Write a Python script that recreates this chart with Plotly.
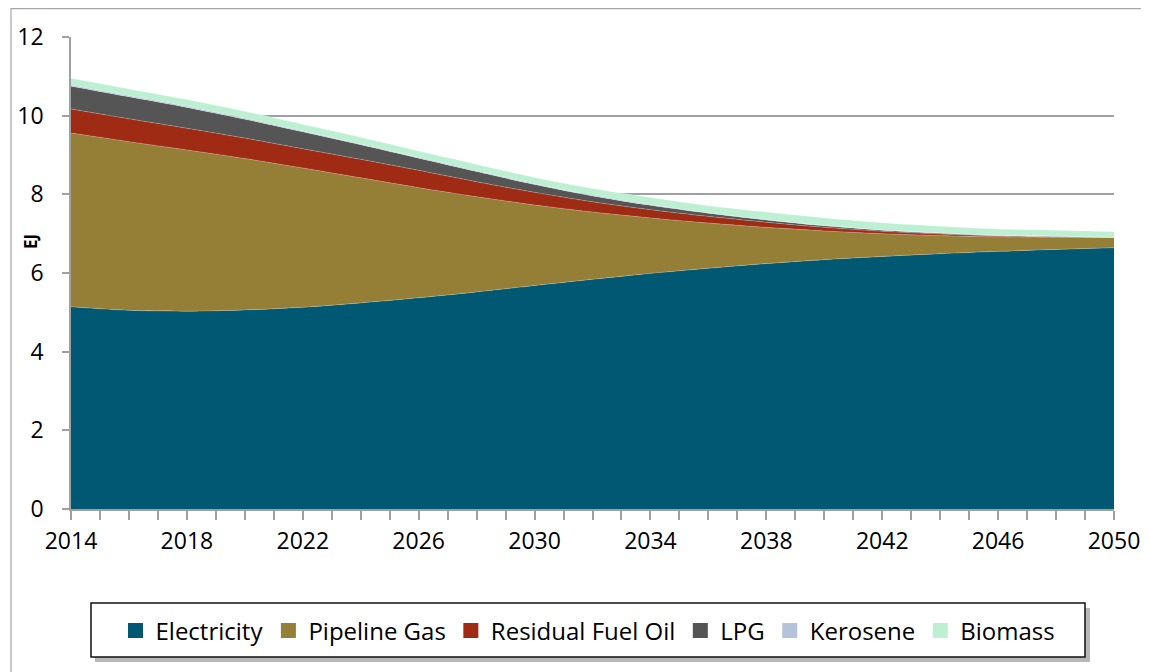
import plotly.graph_objects as go

years = list(range(2014, 2051, 2))
electricity = [5.14, 5.05, 5.03, 5.06, 5.13, 5.24, 5.37, 5.52, 5.68, 5.84, 5.99, 6.12, 6.24, 6.34, 6.42, 6.49, 6.55, 6.60, 6.64]
pipeline_gas = [4.42, 4.29, 4.10, 3.85, 3.54, 3.18, 2.80, 2.42, 2.05, 1.71, 1.41, 1.15, 0.92, 0.73, 0.58, 0.46, 0.37, 0.31, 0.26]
residual_fuel_oil = [0.61, 0.58, 0.55, 0.52, 0.49, 0.47, 0.44, 0.38, 0.32, 0.26, 0.21, 0.17, 0.13, 0.09, 0.06, 0.04, 0.02, 0.01, 0.00]
lpg = [0.58, 0.56, 0.53, 0.48, 0.43, 0.37, 0.31, 0.26, 0.20, 0.15, 0.11, 0.08, 0.06, 0.04, 0.03, 0.02, 0.01, 0.01, 0.00]
kerosene = [0.03, 0.03, 0.03, 0.03, 0.02, 0.02, 0.02, 0.02, 0.02, 0.02, 0.02, 0.01, 0.01, 0.01, 0.01, 0.01, 0.01, 0.01, 0.01]
biomass = [0.17, 0.17, 0.17, 0.17, 0.17, 0.17, 0.16, 0.16, 0.16, 0.17, 0.18, 0.18, 0.19, 0.19, 0.18, 0.17, 0.16, 0.15, 0.14]

series = [
    ("Electricity", electricity, "#005872"),
    ("Pipeline Gas", pipeline_gas, "#957F37"),
    ("Residual Fuel Oil", residual_fuel_oil, "#A02B14"),
    ("LPG", lpg, "#555555"),
    ("Kerosene", kerosene, "#B4C4D8"),
    ("Biomass", biomass, "#BDEFD3"),
]

FONT = "Open Sans"
fig = go.Figure()
for name, vals, col in series:
    fig.add_trace(go.Scatter(
        x=years, y=vals, name=name, stackgroup="one", mode="lines",
        line=dict(width=0.6, color="rgba(255,255,255,0.35)", shape="spline", smoothing=0.8),
        fillcolor=col, showlegend=False, hoverinfo="x+y+name",
    ))
# legend entries with square swatches
for name, vals, col in series:
    fig.add_trace(go.Scatter(
        x=[None], y=[None], name=name, mode="markers",
        marker=dict(symbol="square", size=15, color=col), showlegend=True,
    ))

OFF = 8  # page body margin
W, H = 1149 - OFF, 672 - OFF
L, T = 71 - OFF, 37 - OFF
pw, ph = 1043, 472
R = W - L - pw
B = H - T - ph

def px(x):
    return (x - OFF - L) / pw

def py(y):
    return (T + ph - (y - OFF)) / ph

shapes = [
    dict(type="rect", xref="paper", yref="paper", x0=px(11), x1=px(1170), y0=py(690), y1=py(8.6),
         line=dict(color="#a6a6a6", width=1.2), fillcolor="rgba(0,0,0,0)", layer="below"),
    dict(type="rect", xref="paper", yref="paper", x0=px(95), x1=px(1090), y0=py(662), y1=py(608),
         line=dict(width=0), fillcolor="rgba(0,0,0,0.28)", layer="below"),
    dict(type="rect", xref="paper", yref="paper", x0=px(91), x1=px(1085), y0=py(657), y1=py(603),
         line=dict(color="#111111", width=1.5), fillcolor="white", layer="below"),
]

fig.update_layout(
    width=W, height=H,
    margin=dict(l=L, r=R, t=T, b=B, autoexpand=False),
    paper_bgcolor="white", plot_bgcolor="white",
    font=dict(family=FONT, size=23, color="#000000"),
    showlegend=True,
    legend=dict(orientation="h", x=px(588), xanchor="center", y=py(631), yanchor="middle",
                font=dict(family=FONT, size=24), bgcolor="rgba(0,0,0,0)", borderwidth=0,
                itemwidth=30, traceorder="normal"),
    shapes=shapes,
    annotations=[dict(text="<b>EJ</b>", xref="paper", yref="paper", x=px(31), y=py(242),
                      xanchor="center", yanchor="middle", showarrow=False, textangle=-90,
                      font=dict(family=FONT, size=17, color="#000000"))],
    xaxis=dict(range=[2014, 2050], tickmode="linear", tick0=2014, dtick=4, automargin=False,
               ticks="outside", ticklen=9, tickcolor="#a0a0a0", tickwidth=1.5,
               minor=dict(dtick=1, tick0=2014, ticks="outside", ticklen=9, tickcolor="#a0a0a0", tickwidth=1.5, showgrid=False),
               showline=True, linecolor="#a0a0a0", linewidth=1.5, showgrid=False, zeroline=False,
               tickfont=dict(size=23), ticklabelstandoff=2),
    yaxis=dict(range=[0, 12], tickmode="linear", tick0=0, dtick=2, automargin=False,
               ticks="outside", ticklen=7, tickcolor="#a0a0a0", tickwidth=1.5,
               showline=True, linecolor="#a0a0a0", linewidth=1.5,
               showgrid=True, gridcolor="#a0a0a0", gridwidth=1.5, zeroline=False,
               tickfont=dict(size=23), ticklabelstandoff=14),
)

fig.write_html("out.html")
